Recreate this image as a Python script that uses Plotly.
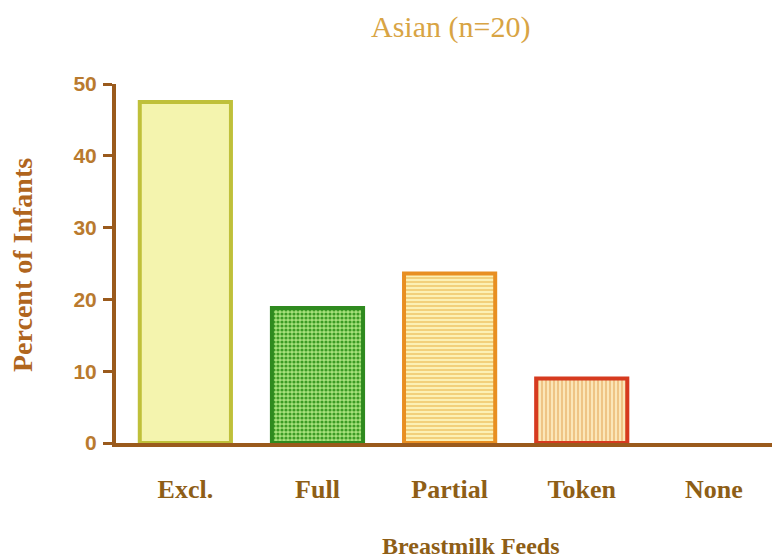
import plotly.graph_objects as go

categories = ["Excl.", "Full", "Partial", "Token", "None"]
values = [47.5, 18.8, 23.6, 9.0, 0.0]
y_ticks = [0, 10, 20, 30, 40, 50]

fill_bg = ["#F4F4AE", "#A8E27C", "#FCF0B4", "#FBE6B8", "#FFFFFF"]
fill_fg = ["#E4E48A", "#3C9C24", "#F0C86C", "#EDBC78", "#FFFFFF"]
shapes = ["", ".", "-", "|", ""]
solid = [0.3, 0.5, 0.4, 0.4, 0.3]
edge = ["#BFC03A", "#2F8A1F", "#E88F22", "#D63A1F", "#FFFFFF"]

brown = "#9A5A1C"

fig = go.Figure()
for cat, val, bg, fg, shp, sol, ec in zip(categories, values, fill_bg, fill_fg, shapes, solid, edge):
    fig.add_trace(go.Bar(
        x=[cat],
        y=[val],
        width=0.69,
        name=cat,
        marker=dict(
            color=bg,
            line=dict(color=ec, width=4),
            pattern=dict(shape=shp, fgcolor=fg, bgcolor=bg,
                         size=4, solidity=sol, fillmode="replace"),
        ),
        hoverinfo="x+y",
    ))

fig.update_layout(
    width=772, height=560,
    margin=dict(l=116, r=0, t=84, b=117),
    paper_bgcolor="white", plot_bgcolor="white",
    showlegend=False,
    barmode="overlay",
    xaxis=dict(
        categoryorder="array", categoryarray=categories,
        range=[-0.525, 4.44],
        showline=True, linecolor=brown, linewidth=4,
        showgrid=False, zeroline=False, ticks="",
        tickfont=dict(family="Liberation Serif", size=26, color="#8E5E16", weight="bold"),
        ticklabelstandoff=20,
    ),
    yaxis=dict(
        range=[0, 50],
        tickvals=y_ticks,
        showline=True, linecolor=brown, linewidth=4,
        showgrid=False, zeroline=False,
        ticks="outside", ticklen=9, tickwidth=3, tickcolor=brown,
        tickfont=dict(family="Liberation Sans", size=21, color="#B97A2E", weight="bold"),
        ticklabelstandoff=2,
    ),
    annotations=[
        dict(text="Asian (n=20)", x=(450 - 116) / 656, y=1 + (84 - 27) / 359,
             xref="paper", yref="paper", showarrow=False,
             xanchor="center", yanchor="middle",
             font=dict(family="Liberation Serif", size=30, color="#D8A444")),
        dict(text="Breastmilk Feeds", x=(471 - 116) / 656, y=-(546 - 443) / 359,
             xref="paper", yref="paper", showarrow=False,
             xanchor="center", yanchor="middle",
             font=dict(family="Liberation Serif", size=24, color="#8E5E16", weight="bold")),
        dict(text="Percent of Infants", x=(22 - 116) / 656, y=(443 - 265) / 359,
             xref="paper", yref="paper", showarrow=False, textangle=-90,
             xanchor="center", yanchor="middle",
             font=dict(family="Liberation Serif", size=28, color="#B0651E", weight="bold")),
    ],
)

fig.write_html("out.html", config={"displayModeBar": False},
               post_script="document.body.style.margin='0';document.body.style.padding='0';")
